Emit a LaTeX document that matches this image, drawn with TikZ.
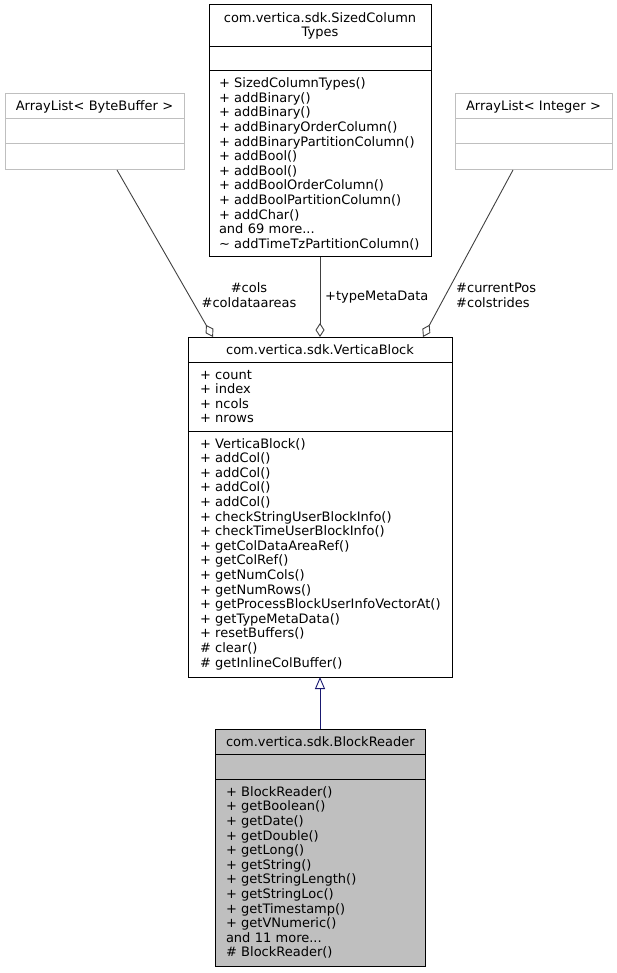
\documentclass[tikz,border=0pt]{standalone}
\usepackage{fontspec}
\setmainfont{DejaVu Sans}
\usetikzlibrary{arrows.meta}
\definecolor{edgegray}{HTML}{404040}
\definecolor{lightframe}{HTML}{BFBFBF}
\definecolor{inhblue}{HTML}{191970}
\definecolor{curfill}{HTML}{BFBFBF}
\hyphenpenalty=10000\relax
\exhyphenpenalty=10000\relax
\tikzset{
  umlpart/.style={draw=black, fill=white, rectangle, anchor=north west, inner ysep=0pt,
    outer sep=0pt, line width=1pt, font=\fontsize{13}{14.6}\selectfont},
  hdr/.style={umlpart, align=center},
  cmp/.style={umlpart, align=left},
  ghost/.style={draw=lightframe},
  current/.style={fill=curfill},
  aggr/.style={draw=edgegray, line width=0.9pt, -{Diamond[open, length=14pt, width=9pt]}},
  inh/.style={draw=inhblue, line width=0.9pt, -{Triangle[open, length=12pt, width=10pt]}},
  lbl/.style={inner sep=0pt, font=\fontsize{13}{15}\selectfont},
}
\begin{document}
\begin{tikzpicture}[x=1pt,y=-1pt]
\useasboundingbox (0,0) rectangle (616,973);
% ArrayList< ByteBuffer >
\node[hdr, ghost, minimum width=179pt, minimum height=25pt, inner xsep=0pt, text width=179pt] (bbh) at (5,94) {ArrayList<~ByteBuffer~>};
\node[cmp, ghost, minimum width=179pt, minimum height=25pt, inner xsep=0pt] (bba) at (bbh.south west) {};
\node[cmp, ghost, minimum width=179pt, minimum height=26pt, inner xsep=0pt] (bbm) at (bba.south west) {};
% ArrayList< Integer >
\node[hdr, ghost, minimum width=157pt, minimum height=25pt, inner xsep=0pt, text width=157pt] (inth) at (455,94) {ArrayList<~Integer~>};
\node[cmp, ghost, minimum width=157pt, minimum height=25pt, inner xsep=0pt] (inta) at (inth.south west) {};
\node[cmp, ghost, minimum width=157pt, minimum height=26pt, inner xsep=0pt] (intm) at (inta.south west) {};
% SizedColumnTypes
\node[hdr, minimum height=42pt, inner xsep=10pt, text width=202pt] (scth) at (209,5) {com.vertica.sdk.SizedColumn\\Types};
\node[cmp, minimum height=24pt, minimum width=222pt, inner xsep=0pt] (scta) at (scth.south west) {};
\node[cmp, minimum height=186pt, inner xsep=10pt, text width=202pt] (sctm) at (scta.south west) {%
+~SizedColumnTypes()\\
+~addBinary()\\
+~addBinary()\\
+~addBinaryOrderColumn()\\
+~addBinaryPartitionColumn()\\
+~addBool()\\
+~addBool()\\
+~addBoolOrderColumn()\\
+~addBoolPartitionColumn()\\
+~addChar()\\
and~69~more...\\
\textasciitilde~addTimeTzPartitionColumn()};
% VerticaBlock
\node[hdr, minimum height=25pt, inner xsep=12pt, text width=240pt] (vbh) at (188,337) {com.vertica.sdk.VerticaBlock};
\node[cmp, minimum height=69pt, inner xsep=12pt, text width=240pt] (vba) at (vbh.south west) {%
+~count\\
+~index\\
+~ncols\\
+~nrows};
\node[cmp, minimum height=246pt, inner xsep=12pt, text width=240pt] (vbm) at (vba.south west) {%
+~VerticaBlock()\\
+~addCol()\\
+~addCol()\\
+~addCol()\\
+~addCol()\\
+~checkStringUserBlockInfo()\\
+~checkTimeUserBlockInfo()\\
+~getColDataAreaRef()\\
+~getColRef()\\
+~getNumCols()\\
+~getNumRows()\\
+~getProcessBlockUserInfoVectorAt()\\
+~getTypeMetaData()\\
+~resetBuffers()\\
\#~clear()\\
\#~getInlineColBuffer()};
% BlockReader
\node[hdr, current, minimum height=25pt, inner xsep=11pt, text width=188pt] (brh) at (215,729) {com.vertica.sdk.BlockReader};
\node[cmp, current, minimum height=25pt, inner xsep=11pt, text width=188pt] (bra) at (brh.south west) {};
\node[cmp, current, minimum height=187pt, inner xsep=11pt, text width=188pt] (brm) at (bra.south west) {%
+~BlockReader()\\
+~getBoolean()\\
+~getDate()\\
+~getDouble()\\
+~getLong()\\
+~getString()\\
+~getStringLength()\\
+~getStringLoc()\\
+~getTimestamp()\\
+~getVNumeric()\\
and~11~more...\\
\#~BlockReader()};
% connectors
\draw[aggr] ([xshift=22.5pt]bbm.south) -- ([xshift=-107pt]vbh.north);
\draw[aggr] (sctm.south) -- (vbh.north);
\draw[aggr] ([xshift=-20.5pt]intm.south) -- ([xshift=103pt]vbh.north);
\draw[inh] (brh.north) -- (vbm.south);
% labels
\node[lbl, align=center] (lcols) at (249,295.5) {\#cols\\\#coldataareas};
\node[lbl, anchor=west] (ltmd) at (325,297) {+typeMetaData};
\node[lbl, align=left, anchor=west] (lcur) at (456,295.5) {\#currentPos\\\#colstrides};
\end{tikzpicture}
\end{document}
